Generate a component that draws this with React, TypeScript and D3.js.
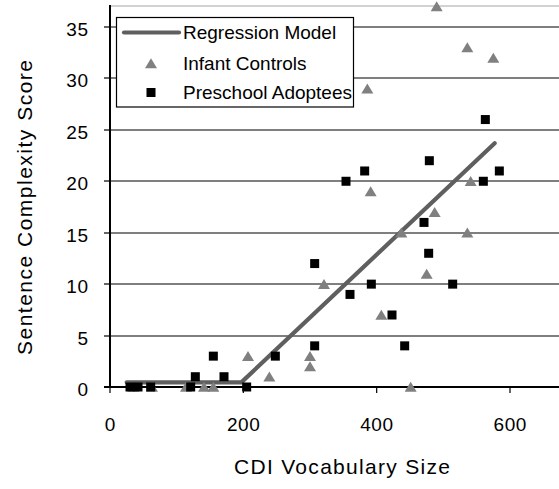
import React from "react";
import * as d3 from "d3";

const W = 559;
const H = 489;

// Infant Controls (gray triangles): CDI vocabulary size, sentence complexity
const infantX = [490, 536, 575, 386, 541, 391, 487, 437, 536, 475, 321, 407, 300, 300, 451, 207, 239, 114, 141, 155, 35, 63];
const infantY = [37, 33, 32, 29, 20, 19, 17, 15, 15, 11, 10, 7, 3, 2, 0, 3, 1, 0, 0, 0, 0, 0];

// Preschool Adoptees (black squares)
const adopteeX = [479, 382, 354, 584, 560, 563, 471, 478, 307, 392, 514, 360, 423, 307, 442, 30, 42, 61, 121, 128, 155, 171, 205, 248];
const adopteeY = [22, 21, 20, 21, 20, 26, 16, 13, 12, 10, 10, 9, 7, 4, 4, 0, 0, 0, 0, 1, 3, 1, 0, 3];

// Regression model (broken-stick)
const regX = [25, 197, 577];
const regY = [0.45, 0.45, 23.7];

const yTicks = [0, 5, 10, 15, 20, 25, 30, 35];
const xTicks = [0, 200, 400, 600];

const legendLabels = ["Regression Model", "Infant Controls", "Preschool Adoptees"];
const xTitle = "CDI Vocabulary Size";
const yTitle = "Sentence Complexity Score";

const FONT = "'Liberation Sans', Arial, sans-serif";

export default function App() {
  const x = d3.scaleLinear().domain([0, 673.5]).range([110, 559]);
  const y = d3.scaleLinear().domain([0, 37]).range([387, 6.4]);

  const line = d3
    .line<number>()
    .x((d, i) => x(regX[i]))
    .y((d) => y(d));

  const triPath = "M0,-5.2L6,4.8L-6,4.8Z";
  const sq = 9;

  const legRows = [32.5, 63.5, 92.5];
  const ls = 0.6;

  return (
    <svg
      width={W}
      height={H}
      style={{ position: "absolute", left: 0, top: 0, background: "#fff" }}
      fontFamily={FONT}
    >
      <rect x={0} y={0} width={W} height={H} fill="#fff" />
      {/* top border */}
      <line x1={110} x2={W} y1={6} y2={6} stroke="#a6a6a6" strokeWidth={1.2} />
      {/* gridlines */}
      {yTicks.filter((t) => t > 0).map((t) => (
        <line key={"g" + t} x1={110} x2={W} y1={Math.round(y(t))} y2={Math.round(y(t))} stroke="#000" strokeWidth={1.2} />
      ))}
      {/* y ticks */}
      {yTicks.map((t) => (
        <line key={"yt" + t} x1={104} x2={110} y1={Math.round(y(t))} y2={Math.round(y(t))} stroke="#000" strokeWidth={1.2} />
      ))}
      {/* x ticks */}
      {xTicks.map((t) => (
        <line key={"xt" + t} x1={x(t)} x2={x(t)} y1={387} y2={393} stroke="#000" strokeWidth={1.2} />
      ))}
      {/* axes */}
      <line x1={110} x2={110} y1={5} y2={387} stroke="#000" strokeWidth={2} />
      <line x1={104} x2={W} y1={387} y2={387} stroke="#000" strokeWidth={2} />

      {/* y tick labels */}
      {yTicks.map((t) => (
        <text
          key={"yl" + t}
          x={88 + ls}
          y={y(t) + 9}
          textAnchor="end"
          fontSize={19}
          letterSpacing={ls}
          fill="#000"
        >
          {t}
        </text>
      ))}
      {/* x tick labels */}
      {xTicks.map((t) => (
        <text
          key={"xl" + t}
          x={x(t) + ls / 2}
          y={431}
          textAnchor="middle"
          fontSize={19}
          letterSpacing={ls}
          fill="#000"
        >
          {t}
        </text>
      ))}

      {/* regression line */}
      <path d={line(regY) || ""} fill="none" stroke="#5f5f5f" strokeWidth={4.2} strokeLinecap="round" />

      {/* infant controls */}
      {infantX.map((v, i) => (
        <path key={"i" + i} d={triPath} transform={`translate(${x(v)},${y(infantY[i])})`} fill="#808080" />
      ))}
      {/* preschool adoptees */}
      {adopteeX.map((v, i) => (
        <rect key={"a" + i} x={x(v) - sq / 2} y={y(adopteeY[i]) - sq / 2} width={sq} height={sq} fill="#000" />
      ))}

      {/* legend */}
      <rect x={116.5} y={17.5} width={237} height={89.5} fill="#fff" stroke="#000" strokeWidth={1.2} />
      <line x1={124} x2={179} y1={legRows[0]} y2={legRows[0]} stroke="#5f5f5f" strokeWidth={4.2} strokeLinecap="round" />
      <path d={triPath} transform={`translate(151,${legRows[1]})`} fill="#808080" />
      <rect x={151 - sq / 2} y={legRows[2] - sq / 2} width={sq} height={sq} fill="#000" />
      {legendLabels.map((l, i) => (
        <text
          key={"lg" + i}
          x={183}
          y={legRows[i] + 6.5}
          fontSize={19}
          fill="#000"
        >
          {l}
        </text>
      ))}

      {/* axis titles */}
      <text x={342} y={474} textAnchor="middle" fontSize={21} textLength={216} lengthAdjust="spacing" fill="#000">
        {xTitle}
      </text>
      <text
        transform="translate(32,207.5) rotate(-90)"
        textAnchor="middle"
        fontSize={21}
        textLength={295}
        lengthAdjust="spacing"
        fill="#000"
      >
        {yTitle}
      </text>
    </svg>
  );
}
